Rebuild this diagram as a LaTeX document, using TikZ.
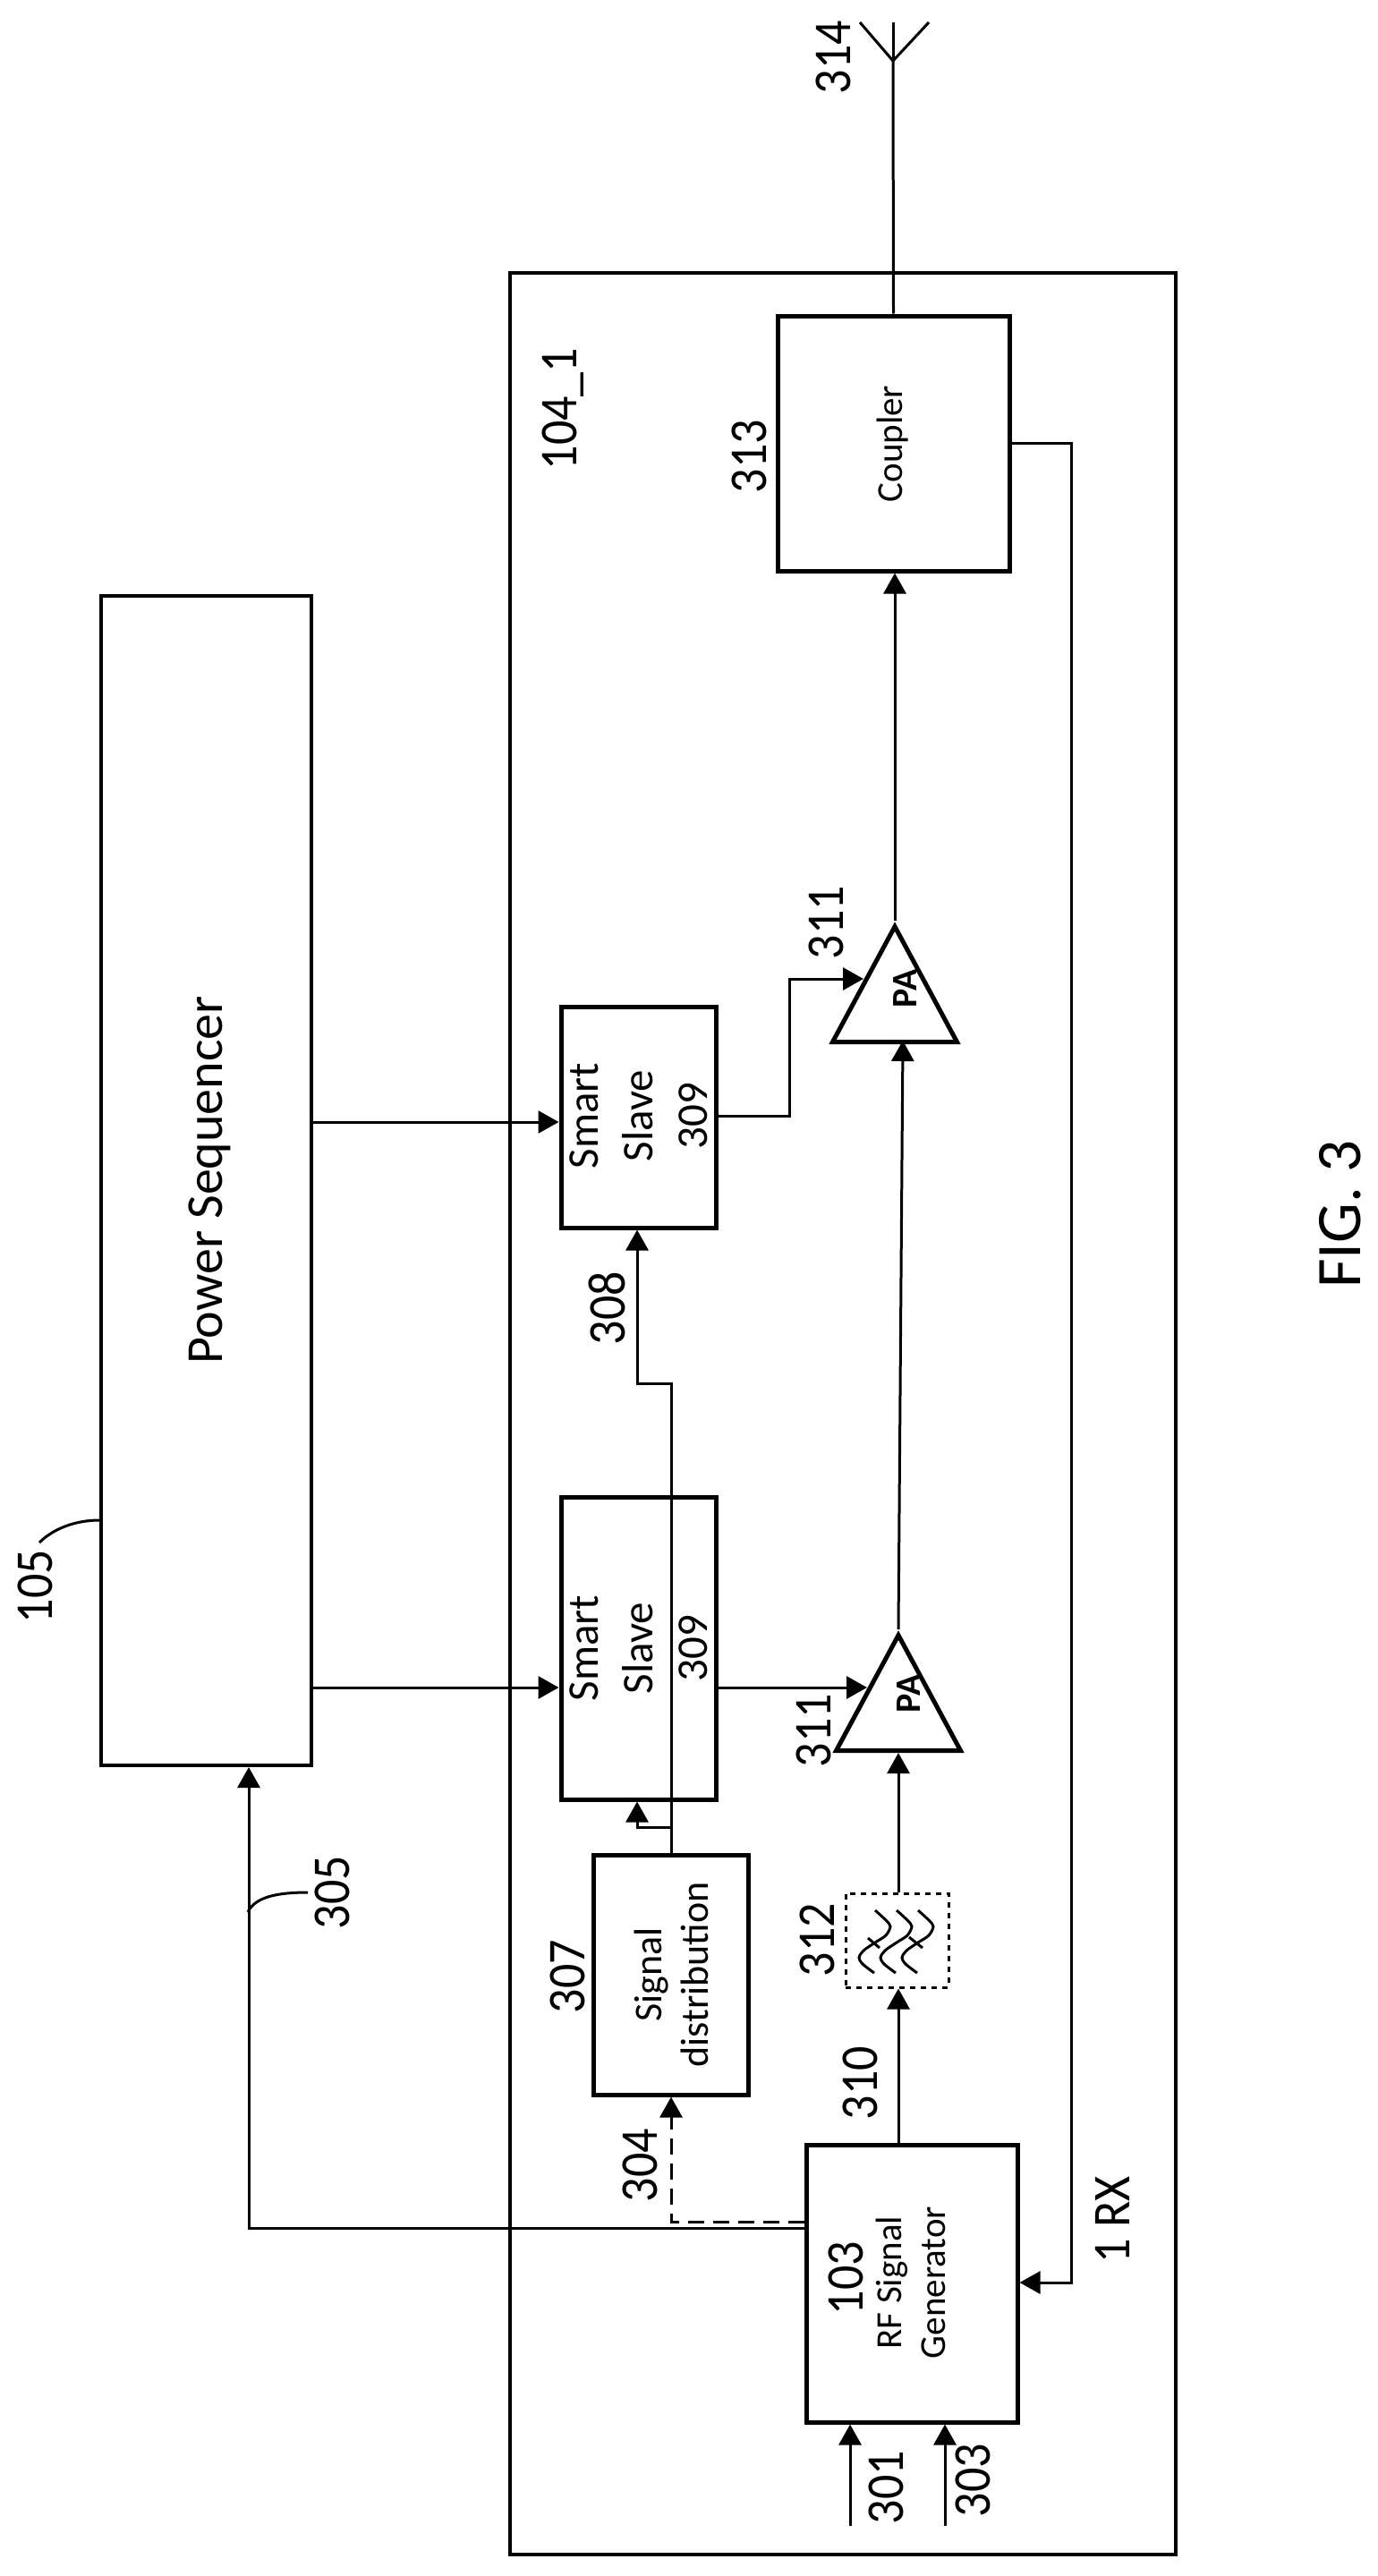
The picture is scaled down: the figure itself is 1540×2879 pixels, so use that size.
\documentclass[tikz,border=0pt]{standalone}
\usepackage{fontspec}
\setmainfont{Carlito}
\usetikzlibrary{arrows.meta}
\usetikzlibrary{fit}
\usetikzlibrary{shapes.geometric}

\tikzset{
	blockbox/.style={draw, line width=2.5pt, inner sep=0pt},
	outerbox/.style={draw, line width=2pt, inner sep=0pt},
	flow/.style={line width=1.5pt, -{Triangle[length=11.5pt,width=12.5pt]}},
	wire/.style={line width=1.5pt},
	patriangle/.style={draw, line width=2.5pt, isosceles triangle, isosceles triangle stretches, shape border rotate=90, minimum width=69.5pt, minimum height=64.5pt, inner sep=0pt},
	reflabel/.style={rotate=90, yscale=1.1, inner sep=0pt, font=\fontsize{27}{32}\selectfont},
	slavetext/.style={rotate=90, inner sep=0pt, align=center, font=\fontsize{24.5}{30.5}\selectfont},
}

\begin{document}
\begin{tikzpicture}[x=0.5pt,y=-0.5pt]
	\useasboundingbox (0,0) rectangle (1540,2879);
	% Blocks %
	\node [outerbox, fit={(570,305) (1314,2855)}] (frontend) {};
	\node [outerbox, fit={(113,666) (348,1973)}] (sequencer) {};
	\node [blockbox, fit={(869,353) (1128,638)}] (coupler) {};
	\node [blockbox, fit={(627,1125) (800,1372)}] (slavetop) {};
	\node [blockbox, fit={(627,1673) (800,2011)}] (slavebottom) {};
	\node [blockbox, fit={(663,2073) (836,2341)}] (distribution) {};
	\node [blockbox, fit={(901,2397) (1137,2707)}] (generator) {};
	\node [draw, dashed, line width=1.5pt, inner sep=0pt, fit={(945,2116) (1060,2221)}] (filter) {};
	% Amplifiers %
	\node [patriangle, anchor=apex] (patop) at (1000,1029) {};
	\node [patriangle, anchor=apex] (pabottom) at (1004,1821) {};
	% Filter Waves %
	\foreach \dx in {0,24,48}
		{\draw [line width=1.5pt, xshift=\dx*0.5pt] plot [smooth] coordinates {(978,2135) (990,2146) (995,2153) (990,2163) (978,2171) (965,2180) (960,2188) (964,2195) (977,2205)};}
	\draw [line width=1.5pt] (970,2166) -- (983,2177);
	\draw [line width=1.5pt] (1016,2165) -- (1031,2177);
	% Antenna %
	\coordinate (antennafoot) at (998,68);
	\draw [wire] (coupler.north) -- (antennafoot);
	\draw [wire] (antennafoot) -- (961,25);
	\draw [wire] (antennafoot) -- (998,25);
	\draw [wire] (antennafoot) -- (1038,25);
	% Signal Path %
	\draw [flow] (generator.north -| 1004,0) -- (filter.south -| 1004,0);
	\draw [flow] (filter.north -| 1004,0) -- (pabottom.south);
	\draw [flow] (pabottom.apex) -- (1009,1163);
	\draw [flow] (patop.apex) -- (patop.apex |- coupler.south);
	\draw [flow] (coupler.east |- 0,495) -- (1197,495) -- (1197,2551) -- (generator.east |- 0,2551);
	% Sequencer Lines %
	\draw [flow] (sequencer.east |- 0,1254) -- (slavetop.west |- 0,1254);
	\draw [flow] (sequencer.east |- 0,1886) -- (slavebottom.west |- 0,1886);
	\draw [flow] (generator.west |- 0,2490) -- (278,2490) -- (278,1975);
	% Slave Lines %
	\draw [flow] (slavetop.east |- 0,1247) -- (882,1247) -- (882,1094) -- (965,1094);
	\draw [flow] (slavebottom.east |- 0,1886) -- (969,1886);
	% Distribution Lines %
	\draw [flow, dash pattern=on 9pt off 5pt] (generator.west |- 0,2483) -- (750,2483) -- (distribution.south -| 750,0);
	\draw [flow] (distribution.north -| 750,0) -- (750,1546) -- (712,1546) -- (slavetop.south -| 712,0);
	\draw [flow] (750,2042) -- (712,2042) -- (slavebottom.south -| 712,0);
	% Inputs %
	\coordinate (inputa) at (950,2823);
	\coordinate (inputb) at (1056,2823);
	\draw [flow] (inputa) -- (inputa |- generator.south);
	\draw [flow] (inputb) -- (inputb |- generator.south);
	% Leaders %
	\draw [wire] (sequencer.west |- 0,1699) .. controls (85,1699) and (60,1708) .. (44,1724);
	\draw [wire] (277,2137) .. controls (285,2120) and (310,2115) .. (344,2115);
	% Block Texts %
	\node [rotate=90, inner sep=0pt, font=\fontsize{29}{34}\selectfont] (sequencertext) at (234,1319) {Power Sequencer};
	\node [rotate=90, inner sep=0pt, font=\fontsize{20.5}{24}\selectfont] (couplertext) at (998,496) {Coupler};
	\node [slavetext] (slavetoptext) at (714,1247) {Smart\\Slave\\309};
	\node [slavetext] (slavebottomtext) at (714,1842) {Smart\\Slave\\309};
	\node [rotate=90, inner sep=0pt, align=center, font=\fontsize{22}{26}\selectfont] (distributiontext) at (750,2207) {Signal\\distribution};
	\node [rotate=90, inner sep=0pt, align=center, font=\fontsize{20.5}{24.5}\selectfont] (generatortext) at (1018,2551) {RF Signal\\Generator};
	\node [rotate=90, inner sep=0pt, font=\fontsize{20}{24}\selectfont\bfseries] (patoptext) at (1012,1105) {PA};
	\node [rotate=90, inner sep=0pt, font=\fontsize{20}{24}\selectfont\bfseries] (pabottomtext) at (1016,1893) {PA};
	% Reference Numbers %
	\node [reflabel] (l314) at (931,64) {314};
	\node [reflabel] (l104) at (629,457) {104\_1};
	\node [reflabel] (l313) at (837,510) {313};
	\node [reflabel] (l311a) at (923,1031) {311};
	\node [reflabel] (l308) at (678,1462) {308};
	\node [reflabel] (l105) at (39,1773) {105};
	\node [reflabel] (l311b) at (909,1934) {311};
	\node [reflabel] (l305) at (371,2115) {305};
	\node [reflabel] (l312) at (913,2168) {312};
	\node [reflabel] (l307) at (634,2209) {307};
	\node [reflabel] (l310) at (961,2328) {310};
	\node [reflabel] (l304) at (715,2420) {304};
	\node [reflabel] (l103) at (945,2546) {103};
	\node [reflabel] (lrx) at (1243,2481) {1 RX};
	\node [reflabel] (l301) at (990,2780) {301};
	\node [reflabel] (l303) at (1087,2772) {303};
	\node [rotate=90, inner sep=0pt, font=\fontsize{35.5}{40}\selectfont] (figlabel) at (1498,1357) {FIG. 3};
\end{tikzpicture}
\end{document}
